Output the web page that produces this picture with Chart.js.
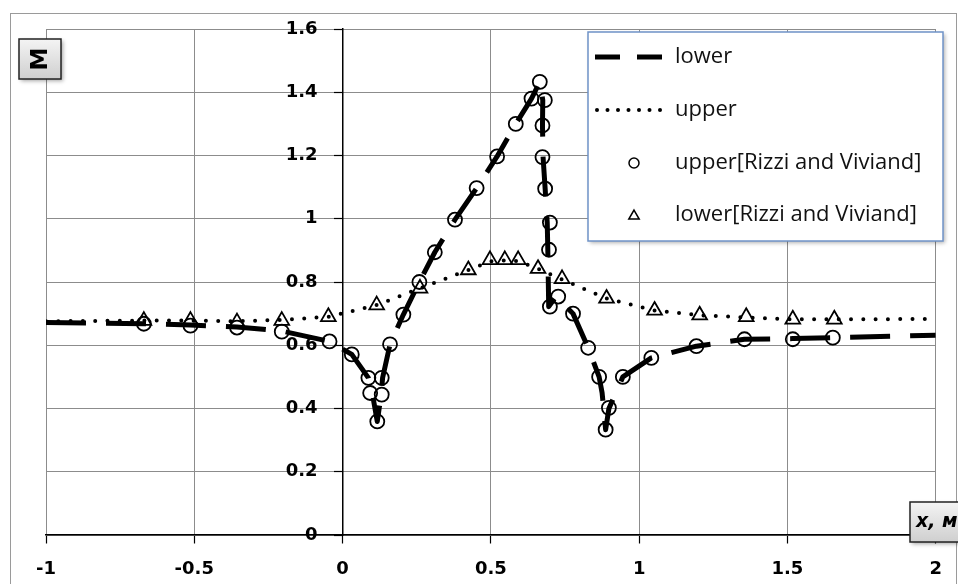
<!DOCTYPE html>
<html>
<head>
<meta charset="utf-8">
<script src="https://cdn.jsdelivr.net/npm/chart.js@4.4.1/dist/chart.umd.min.js"></script>
<style>
  html, body { margin: 0; padding: 0; background: #fff; }
  #wrap { position: relative; width: 958px; height: 584px; }
</style>
</head>
<body>
<div id="wrap"><canvas id="chart" width="958" height="584"></canvas></div>
<script>
// values (x in metres, M = Mach number)
const lowerX = [-1, -0.67, -0.513, -0.356, -0.205, -0.044, 0.031, 0.087, 0.1, 0.117, 0.13, 0.135, 0.16, 0.205, 0.259, 0.311, 0.379, 0.452, 0.521, 0.584, 0.637, 0.665, 0.675, 0.674, 0.676, 0.683, 0.69, 0.692, 0.695, 0.72, 0.777, 0.828, 0.865, 0.875, 0.887, 0.898, 0.945, 1.041, 1.193, 1.355, 1.518, 1.653, 2];
const lowerM = [0.672, 0.668, 0.664, 0.658, 0.645, 0.612, 0.571, 0.497, 0.449, 0.359, 0.444, 0.497, 0.603, 0.697, 0.8, 0.894, 0.997, 1.097, 1.197, 1.3, 1.38, 1.433, 1.375, 1.295, 1.195, 1.095, 0.988, 0.902, 0.722, 0.755, 0.7, 0.592, 0.5, 0.45, 0.333, 0.4, 0.5, 0.56, 0.597, 0.619, 0.621, 0.624, 0.632];

const upperX = [-1, -0.67, -0.513, -0.356, -0.205, -0.048, 0.115, 0.261, 0.424, 0.497, 0.547, 0.592, 0.659, 0.74, 0.89, 1.052, 1.204, 1.361, 1.518, 1.658, 2];
const upperM = [0.676, 0.678, 0.678, 0.676, 0.68, 0.69, 0.727, 0.78, 0.838, 0.865, 0.868, 0.866, 0.842, 0.808, 0.748, 0.71, 0.695, 0.688, 0.682, 0.682, 0.683];

// circles
const rizziUpperX = [-0.67, -0.513, -0.356, -0.205, -0.044, 0.031, 0.087, 0.093, 0.117, 0.132, 0.132, 0.16, 0.205, 0.259, 0.311, 0.379, 0.452, 0.521, 0.584, 0.637, 0.665, 0.682, 0.674, 0.674, 0.683, 0.699, 0.696, 0.699, 0.727, 0.777, 0.828, 0.865, 0.898, 0.887, 0.945, 1.041, 1.193, 1.355, 1.518, 1.653];
const rizziUpperM = [0.668, 0.662, 0.656, 0.643, 0.612, 0.571, 0.497, 0.449, 0.359, 0.444, 0.497, 0.603, 0.697, 0.8, 0.894, 0.997, 1.097, 1.197, 1.3, 1.38, 1.433, 1.375, 1.295, 1.195, 1.095, 0.988, 0.902, 0.722, 0.754, 0.7, 0.592, 0.5, 0.402, 0.333, 0.5, 0.56, 0.597, 0.619, 0.619, 0.624];

// triangles
const rizziLowerX = [-0.67, -0.513, -0.356, -0.205, -0.048, 0.115, 0.261, 0.424, 0.497, 0.547, 0.592, 0.659, 0.74, 0.89, 1.052, 1.204, 1.361, 1.518, 1.658];
const rizziLowerM = [0.678, 0.678, 0.673, 0.678, 0.69, 0.727, 0.78, 0.838, 0.87, 0.87, 0.87, 0.842, 0.81, 0.748, 0.71, 0.695, 0.69, 0.682, 0.682];

const xTicks = [-1, -0.5, 0, 0.5, 1, 1.5, 2];
const yTicks = [0, 0.2, 0.4, 0.6, 0.8, 1, 1.2, 1.4, 1.6];
const seriesNames = ['lower', 'upper', 'upper[Rizzi and Viviand]', 'lower[Rizzi and Viviand]'];
const yTitle = 'M';
const xTitle = 'x, м';

function pts(xs, ys) {
  return xs.map((x, i) => ({ x: x, y: ys[i] }));
}

function fmt(v) {
  return String(Math.round(v * 10) / 10);
}

const tickFont = { family: '"DejaVu Sans", sans-serif', size: 18, weight: 'bold' };

// frame, axis-title boxes and the legend box (Excel look)
function titleBox(ctx, x, y, w, h) {
  ctx.save();
  ctx.shadowColor = 'rgba(0,0,0,0.35)';
  ctx.shadowBlur = 4;
  ctx.shadowOffsetX = 2;
  ctx.shadowOffsetY = 2;
  const g = ctx.createLinearGradient(x, y, x, y + h);
  g.addColorStop(0, '#f4f4f4');
  g.addColorStop(1, '#cfcfcf');
  ctx.fillStyle = g;
  ctx.fillRect(x, y, w, h);
  ctx.restore();
  ctx.save();
  ctx.strokeStyle = '#222';
  ctx.lineWidth = 1.5;
  ctx.strokeRect(x, y, w, h);
  ctx.restore();
}

const decorPlugin = {
  id: 'decor',
  beforeDraw(chart) {
    const ctx = chart.ctx;
    ctx.save();
    ctx.fillStyle = '#fff';
    ctx.fillRect(0, 0, chart.width, chart.height);
    ctx.strokeStyle = '#9a9a9a';
    ctx.lineWidth = 1;
    ctx.strokeRect(10.5, 13.5, 946, 600);
    ctx.restore();
  },
  afterDraw(chart) {
    const ctx = chart.ctx;
    const ds = chart.data.datasets;

    // y title
    titleBox(ctx, 19, 39, 42, 40);
    ctx.save();
    ctx.translate(40, 59);
    ctx.rotate(-Math.PI / 2);
    ctx.fillStyle = '#000';
    ctx.font = 'bold 23px "DejaVu Sans", sans-serif';
    ctx.textAlign = 'center';
    ctx.textBaseline = 'middle';
    ctx.fillText(yTitle, 0, 1);
    ctx.restore();

    // x title
    titleBox(ctx, 910, 502, 60, 40);
    ctx.save();
    ctx.fillStyle = '#000';
    ctx.font = 'italic bold 19px "DejaVu Sans", sans-serif';
    ctx.textAlign = 'left';
    ctx.textBaseline = 'middle';
    ctx.fillText(xTitle, 916, 522);
    ctx.restore();

    // legend box
    const lx = 588, ly = 32, lw = 355, lh = 209;
    ctx.save();
    ctx.shadowColor = 'rgba(0,0,0,0.3)';
    ctx.shadowBlur = 4;
    ctx.shadowOffsetX = 2;
    ctx.shadowOffsetY = 2;
    ctx.fillStyle = '#fff';
    ctx.fillRect(lx, ly, lw, lh);
    ctx.restore();
    ctx.save();
    ctx.strokeStyle = '#6f93c8';
    ctx.lineWidth = 1.5;
    ctx.strokeRect(lx, ly, lw, lh);
    ctx.restore();

    const rows = [57, 110, 163, 215];
    ctx.save();
    ctx.strokeStyle = '#000';
    ctx.fillStyle = '#000';
    // dashed sample
    ctx.lineWidth = ds[0].borderWidth;
    ctx.beginPath();
    ctx.moveTo(595, rows[0]); ctx.lineTo(620, rows[0]);
    ctx.moveTo(637, rows[0]); ctx.lineTo(662, rows[0]);
    ctx.stroke();
    // dotted sample
    for (let i = 0; i < 7; i++) {
      ctx.beginPath();
      ctx.arc(597 + i * 10.5, rows[1], 2, 0, Math.PI * 2);
      ctx.fill();
    }
    // marker samples (open)
    ctx.fillStyle = 'rgba(0,0,0,0)';
    ctx.lineWidth = 1.5;
    Chart.helpers.drawPoint(ctx, { pointStyle: 'circle', radius: 5, borderWidth: 1.5, rotation: 0 }, 634, rows[2]);
    Chart.helpers.drawPoint(ctx, { pointStyle: 'triangle', radius: 6, borderWidth: 1.5, rotation: 0 }, 634, rows[3] + 1);

    ctx.font = '22px "Open Sans", sans-serif';
    ctx.textAlign = 'left';
    ctx.textBaseline = 'middle';
    ctx.fillStyle = '#111';
    seriesNames.forEach((n, i) => ctx.fillText(n, 675, rows[i]));
    ctx.restore();
  }
};

new Chart(document.getElementById('chart'), {
  type: 'scatter',
  data: {
    datasets: [
      {
        label: seriesNames[0],
        data: pts(lowerX, lowerM),
        showLine: true,
        borderColor: '#000',
        borderWidth: 5,
        borderDash: [40, 20],
        borderCapStyle: 'butt',
        borderJoinStyle: 'round',
        pointRadius: 0,
        order: 2
      },
      {
        label: seriesNames[1],
        data: pts(upperX, upperM),
        showLine: true,
        borderColor: '#000',
        borderWidth: 4,
        borderDash: [0, 12.3],
        borderCapStyle: 'round',
        borderJoinStyle: 'round',
        pointRadius: 0,
        order: 2
      },
      {
        label: seriesNames[2],
        data: pts(rizziUpperX, rizziUpperM),
        showLine: false,
        pointStyle: 'circle',
        pointRadius: 7,
        pointBorderWidth: 1.8,
        pointBorderColor: '#000',
        pointBackgroundColor: 'rgba(0,0,0,0)',
        order: 1
      },
      {
        label: seriesNames[3],
        data: pts(rizziLowerX, rizziLowerM),
        showLine: false,
        pointStyle: 'triangle',
        pointRadius: 8.5,
        pointBorderWidth: 1.8,
        pointBorderColor: '#000',
        pointBackgroundColor: 'rgba(0,0,0,0)',
        order: 1
      }
    ]
  },
  options: {
    responsive: false,
    animation: false,
    events: [],
    layout: { padding: { left: 46, right: 21, top: 29, bottom: 49 } },
    plugins: {
      legend: { display: false },
      tooltip: { enabled: false }
    },
    scales: {
      x: {
        type: 'linear',
        min: -1,
        max: 2,
        position: { y: 0 },
        afterBuildTicks: s => { s.ticks = xTicks.map(v => ({ value: v })); },
        grid: { color: '#8c8c8c', lineWidth: 1, tickLength: 8, tickColor: '#000', tickWidth: 1.2 },
        border: { display: true, color: '#000', width: 1.5 },
        ticks: { color: '#000', font: tickFont, padding: 16, maxRotation: 0, callback: v => fmt(v) }
      },
      y: {
        type: 'linear',
        min: 0,
        max: 1.6,
        position: { x: 0 },
        afterBuildTicks: s => { s.ticks = yTicks.map(v => ({ value: v })); },
        grid: { color: '#8c8c8c', lineWidth: 1, tickLength: 8, tickColor: '#000', tickWidth: 1.2 },
        border: { display: true, color: '#000', width: 1.5 },
        // labels of a value-positioned axis sit right on the axis line, so pad with spaces
        ticks: { color: '#000', font: tickFont, callback: v => fmt(v) + '    ' }
      }
    }
  },
  plugins: [decorPlugin]
});
</script>
</body>
</html>
